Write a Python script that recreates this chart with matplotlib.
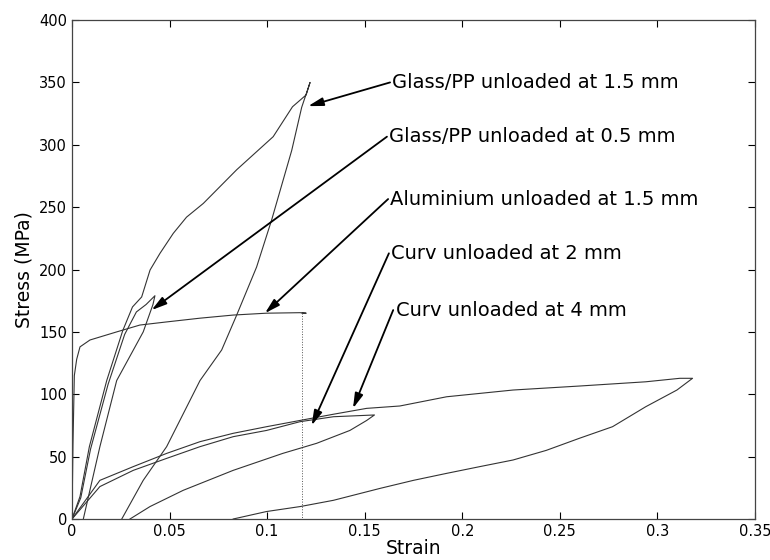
import numpy as np
import matplotlib
matplotlib.use("Agg")
import matplotlib.pyplot as plt
from matplotlib.ticker import FuncFormatter

# Glass/PP unloaded at 1.5 mm (loading + unloading)
glass15_strain = [0.0, 0.0041, 0.0089, 0.0178, 0.026, 0.031, 0.0357, 0.040, 0.0451,
                  0.0519, 0.0587, 0.0673, 0.0844, 0.1031, 0.113, 0.120, 0.122,
                  0.1177, 0.1126, 0.1023, 0.0946, 0.0844, 0.0767,
                  0.0656, 0.0485, 0.0365, 0.0255]
glass15_stress = [0, 18, 58, 111, 151, 170, 178, 199.6, 213,
                  229, 242, 253, 280, 306.5, 330.5, 340, 350,
                  330, 295.5, 239.7, 202, 163.5, 135.5,
                  111, 58, 31, 0]

# Glass/PP unloaded at 0.5 mm
glass05_strain = [0.0, 0.0045, 0.0095, 0.0185, 0.027, 0.033, 0.038, 0.0425, 0.0415,
                  0.0365, 0.0229, 0.0143, 0.0058]
glass05_stress = [0, 17, 56, 108, 148, 166, 172, 179, 172,
                  150, 111, 58, 0]

# Aluminium unloaded at 1.5 mm
alu_strain = [0.0, 0.0005, 0.0012, 0.0024, 0.0041, 0.0092, 0.0229, 0.0348, 0.0485,
              0.0656, 0.0826, 0.0997, 0.1168, 0.120, 0.118, 0.118]
alu_stress = [0, 60, 115, 128, 138, 143.5, 150, 155.5, 158,
              161, 163.5, 165, 165.4, 165, 165, 0]

# Curv unloaded at 2 mm
curv2_strain = [0.0, 0.0143, 0.0314, 0.0485, 0.0656, 0.0826, 0.0997, 0.1168, 0.134,
                0.155, 0.151, 0.1424, 0.1254, 0.108, 0.0826, 0.057, 0.040, 0.0297]
curv2_stress = [0, 26, 39, 48.6, 58, 66, 71, 78, 82,
                83.4, 79, 71, 60.7, 52.6, 39, 23, 10, 0]

# Curv unloaded at 4 mm
curv4_strain = [0.0, 0.0143, 0.0314, 0.0485, 0.0656, 0.0826, 0.0997, 0.1168, 0.134,
                0.151, 0.168, 0.192, 0.226, 0.260, 0.294, 0.3115, 0.318, 0.310,
                0.294, 0.277, 0.260, 0.243, 0.226, 0.209, 0.192, 0.175, 0.158,
                0.134, 0.117, 0.0997, 0.0826]
curv4_stress = [0, 31, 42, 52.6, 62, 68.7, 74, 79, 84,
                88.7, 90.6, 98, 103.4, 106.6, 110, 112.8, 112.8, 103.4,
                90, 74, 64.7, 55, 47.3, 42, 36.6, 31, 24.6,
                15, 10, 6, 0]

labels = ["Glass/PP unloaded at 1.5 mm", "Glass/PP unloaded at 0.5 mm",
          "Aluminium unloaded at 1.5 mm", "Curv unloaded at 2 mm",
          "Curv unloaded at 4 mm"]
label_xy = [(0.163, 350), (0.1614, 306.5), (0.162, 256.5), (0.1624, 213), (0.1646, 167.5)]
arrow_tip = [(0.121, 331), (0.0408, 167.5), (0.0989, 165), (0.1228, 75), (0.144, 88.7)]

fig = plt.figure(figsize=(7.7, 5.6), dpi=100)
ax = fig.add_axes([0.0935, 0.0732, 0.887, 0.891])

line_kw = dict(color="#333333", linewidth=0.8)
ax.plot(glass15_strain, glass15_stress, **line_kw)
ax.plot(glass05_strain, glass05_stress, **line_kw)
ax.plot(alu_strain[:-1], alu_stress[:-1], **line_kw)
ax.plot(alu_strain[-2:], alu_stress[-2:], color="#555555", linewidth=0.7, linestyle=":")
ax.plot(curv2_strain, curv2_stress, **line_kw)
ax.plot(curv4_strain, curv4_stress, **line_kw)

for text, (tx, ty), (px, py) in zip(labels, label_xy, arrow_tip):
    ax.annotate("", xy=(px, py), xytext=(tx, ty),
                arrowprops=dict(arrowstyle="-|>,head_length=0.9,head_width=0.25",
                                color="black", linewidth=1.3, shrinkA=0, shrinkB=0))
    ax.text(tx + 0.0012, ty, text, fontsize=14, va="center", ha="left",
            family="DejaVu Sans")

ax.set_xlim(0, 0.35)
ax.set_ylim(0, 400)
ax.set_xticks(np.arange(0, 0.351, 0.05))
ax.set_yticks(np.arange(0, 401, 50))
ax.xaxis.set_major_formatter(FuncFormatter(lambda v, p: "0" if v == 0 else f"{v:g}"))
ax.tick_params(direction="in", top=True, right=True, length=5, width=0.8,
               labelsize=10.5)
for s in ax.spines.values():
    s.set_linewidth(0.9)
    s.set_color("#444444")
ax.set_xlabel("Strain", fontsize=13.5, labelpad=0)
ax.set_ylabel("Stress (MPa)", fontsize=13.5, labelpad=4)

fig.savefig("out.png", dpi=100)
